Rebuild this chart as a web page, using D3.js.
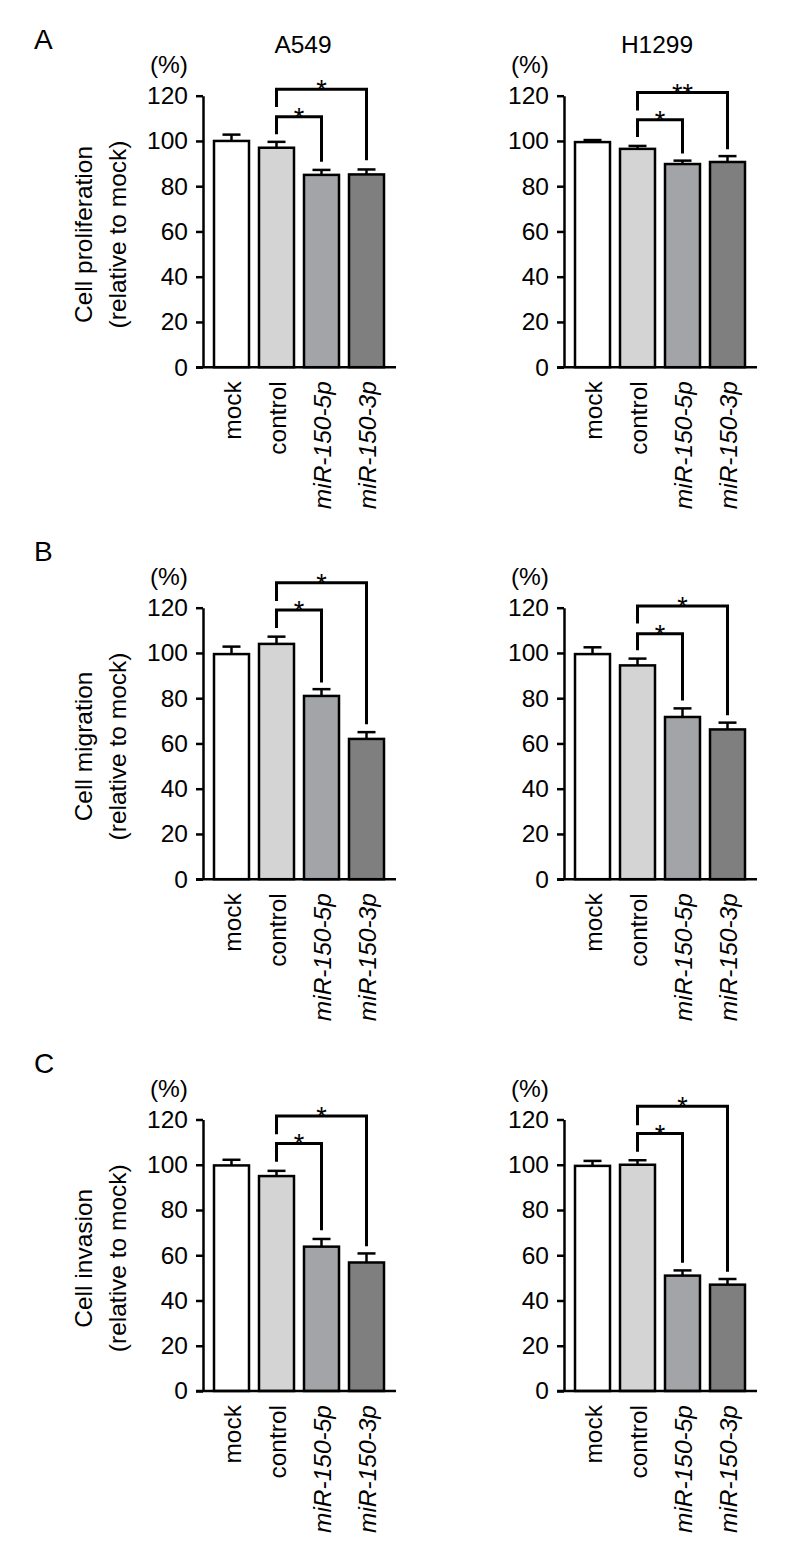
<!DOCTYPE html>
<html><head><meta charset="utf-8">
<script src="https://cdn.jsdelivr.net/npm/d3@7/dist/d3.min.js"></script>
<style>body{margin:0;background:#fff}text{font-family:"Liberation Sans",Arial,Helvetica,sans-serif;fill:#000}</style>
</head><body>
<svg id="c" width="787" height="1566"></svg>
<script>
const categories = ["mock", "control", "miR-150-5p", "miR-150-3p"];
const italicCats = [false, false, true, true];
const barColors = ["#ffffff", "#d4d4d4", "#a3a4a8", "#7f7f7f"];
const yTicks = [0, 20, 40, 60, 80, 100, 120];
const cellLines = ["A549", "H1299"];
const rowLetters = ["A", "B", "C"];
const yTitles = [["Cell proliferation", "(relative to mock)"], ["Cell migration", "(relative to mock)"], ["Cell invasion", "(relative to mock)"]];

const a549ProlifMean = [100, 97, 85, 85.2];
const a549ProlifErr = [2.8, 2.6, 2.2, 2.2];
const h1299ProlifMean = [99.5, 96.5, 89.8, 90.7];
const h1299ProlifErr = [0.9, 1.3, 1.5, 2.6];
const a549MigrMean = [99.5, 104, 81, 62];
const a549MigrErr = [3.3, 3.2, 3, 3];
const h1299MigrMean = [99.5, 94.5, 71.7, 66.2];
const h1299MigrErr = [3, 3, 3.8, 3];
const a549InvMean = [99.7, 95, 63.8, 56.8];
const a549InvErr = [2.5, 2.3, 3.4, 4];
const h1299InvMean = [99.5, 100, 51, 47];
const h1299InvErr = [2.2, 2, 2.3, 2.5];

// brackets: [fromIndex, toIndex, level, leftLegEnd, rightLegEnd, label]
const a549ProlifSig = [[1, 2, 110.7, 103, 90.8, "*"], [1, 3, 122.8, 115, 91.5, "*"]];
const h1299ProlifSig = [[1, 2, 109.4, 101.7, 94.4, "*"], [1, 3, 121.4, 113.5, 96.3, "**"]];
const a549MigrSig = [[1, 2, 119, 111, 86.9, "*"], [1, 3, 131, 123, 68.5, "*"]];
const h1299MigrSig = [[1, 2, 108.5, 101.2, 79, "*"], [1, 3, 120.7, 113, 72.5, "*"]];
const a549InvSig = [[1, 2, 109.4, 101.3, 71.1, "*"], [1, 3, 121.5, 113.5, 64, "*"]];
const h1299InvSig = [[1, 2, 113.8, 105.7, 56.7, "*"], [1, 3, 125.9, 117.5, 52.7, "*"]];

const panels = [
  [[a549ProlifMean, a549ProlifErr, a549ProlifSig], [h1299ProlifMean, h1299ProlifErr, h1299ProlifSig]],
  [[a549MigrMean, a549MigrErr, a549MigrSig], [h1299MigrMean, h1299MigrErr, h1299MigrSig]],
  [[a549InvMean, a549InvErr, a549InvSig], [h1299InvMean, h1299InvErr, h1299InvSig]]
];

const svg = d3.select("#c");
const axisXs = [203, 564];
const rowTops = [95.7, 607.7, 1119.5];
const plotH = 271.5;
const FS = 24.5;

panels.forEach((row, r) => {
  const top = rowTops[r], bottom = top + plotH;
  const y = d3.scaleLinear().domain([0, 120]).range([bottom, top]);
  svg.append("text").attr("x", 34).attr("y", top - 47).attr("font-size", 28).text(rowLetters[r]);
  const cy = (top + bottom) / 2 + 3;
  svg.append("text").attr("transform", `translate(92,${cy}) rotate(-90)`).attr("text-anchor", "middle").attr("font-size", FS).text(yTitles[r][0]);
  svg.append("text").attr("transform", `translate(126,${cy}) rotate(-90)`).attr("text-anchor", "middle").attr("font-size", FS).text(yTitles[r][1]);

  row.forEach(([means, errs, sigs], c) => {
    const ax = axisXs[c];
    const x = d3.scaleBand().domain(categories).range([ax + 6, ax + 6 + 180]).paddingInner(10 / 45).paddingOuter(5 / 45);
    const g = svg.append("g");
    if (r === 0) {
      svg.append("text").attr("x", c === 0 ? 303 : 657).attr("y", 53).attr("text-anchor", "middle").attr("font-size", FS).text(cellLines[c]);
    }
    svg.append("text").attr("x", ax - 15).attr("y", top - 23).attr("text-anchor", "end").attr("font-size", FS).text("(%)");

    g.selectAll("rect.bar").data(means).join("rect")
      .attr("x", (d, i) => x(categories[i]))
      .attr("width", x.bandwidth())
      .attr("y", d => y(d))
      .attr("height", d => y(0) - y(d))
      .attr("fill", (d, i) => barColors[i])
      .attr("stroke", "#000").attr("stroke-width", 2.5);
    means.forEach((m, i) => {
      const cx = x(categories[i]) + x.bandwidth() / 2;
      g.append("line").attr("x1", cx).attr("x2", cx).attr("y1", y(m)).attr("y2", y(m + errs[i])).attr("stroke", "#000").attr("stroke-width", 2.5);
      g.append("line").attr("x1", cx - 9).attr("x2", cx + 9).attr("y1", y(m + errs[i])).attr("y2", y(m + errs[i])).attr("stroke", "#000").attr("stroke-width", 2.5);
    });
    const yAxis = d3.axisLeft(y).tickValues(yTicks).tickSize(7).tickPadding(8).tickSizeOuter(0);
    const ga = svg.append("g").attr("transform", `translate(${ax},0)`).call(yAxis);
    ga.selectAll("path,line").attr("stroke", "#000").attr("stroke-width", 2.5);
    ga.selectAll("text").attr("font-size", FS).attr("font-family", '"Liberation Sans",Arial,sans-serif').attr("fill", "#000");
    svg.append("line").attr("x1", ax - 7).attr("x2", ax + 193).attr("y1", y(0)).attr("y2", y(0)).attr("stroke", "#000").attr("stroke-width", 2.5);
    categories.forEach((cat, i) => {
      const cx = x(cat) + x.bandwidth() / 2;
      svg.append("text").attr("transform", `translate(${cx + 9},${bottom + 14}) rotate(-90)`)
        .attr("text-anchor", "end").attr("font-size", FS)
        .attr("font-style", italicCats[i] ? "italic" : "normal").text(cat);
    });
    sigs.forEach(([a, b, lvl, le, re, lab]) => {
      const xa = x(categories[a]) + x.bandwidth() / 2;
      const xb = x(categories[b]) + x.bandwidth() / 2;
      svg.append("path").attr("d", `M${xa},${y(le)}V${y(lvl)}H${xb}V${y(re)}`)
        .attr("fill", "none").attr("stroke", "#000").attr("stroke-width", 3);
      svg.append("text").attr("x", (xa + xb) / 2).attr("y", y(lvl) + 10).attr("text-anchor", "middle").attr("font-size", 27).text(lab);
    });
  });
});
</script>
</body></html>
